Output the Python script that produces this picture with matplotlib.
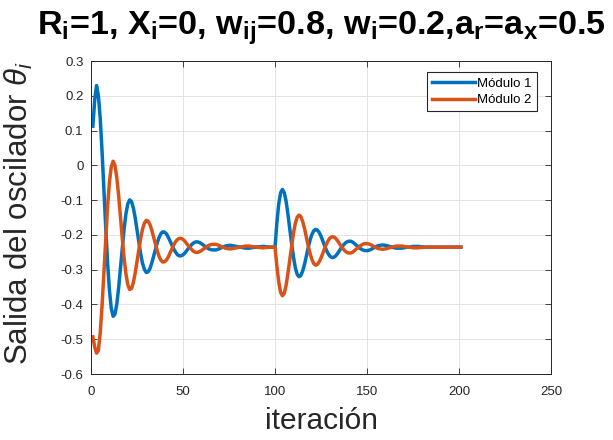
import matplotlib
matplotlib.use("Agg")
import matplotlib.pyplot as plt

plt.rcParams['font.family'] = ['Liberation Sans', 'DejaVu Sans']
plt.rcParams['mathtext.fontset'] = 'custom'
plt.rcParams['mathtext.rm'] = 'Liberation Sans'
plt.rcParams['mathtext.it'] = 'Liberation Sans:italic'
plt.rcParams['mathtext.bf'] = 'Liberation Sans:bold'
plt.rcParams['axes.unicode_minus'] = False

# iteraciones 1..201
iteracion = list(range(1, 202))

modulo1 = [
    0.113, 0.188, 0.230, 0.201, 0.135, 0.040, -0.070, -0.180, -0.280, -0.359,
    -0.411, -0.434, -0.428, -0.399, -0.352, -0.294, -0.235, -0.181, -0.138, -0.110,
    -0.099, -0.104, -0.122, -0.151, -0.186, -0.222, -0.255, -0.282, -0.299, -0.308,
    -0.306, -0.297, -0.281, -0.261, -0.241, -0.222, -0.207, -0.196, -0.191, -0.192,
    -0.197, -0.207, -0.218, -0.230, -0.241, -0.250, -0.257, -0.260, -0.260, -0.257,
    -0.252, -0.245, -0.238, -0.232, -0.226, -0.222, -0.220, -0.220, -0.222, -0.225,
    -0.229, -0.233, -0.237, -0.240, -0.242, -0.243, -0.243, -0.243, -0.241, -0.239,
    -0.236, -0.234, -0.232, -0.231, -0.230, -0.230, -0.231, -0.232, -0.233, -0.234,
    -0.235, -0.236, -0.237, -0.238, -0.238, -0.238, -0.237, -0.236, -0.236, -0.235,
    -0.234, -0.234, -0.233, -0.233, -0.234, -0.234, -0.235, -0.235, -0.235, -0.235,
    -0.164, -0.111, -0.079, -0.069, -0.078, -0.103, -0.140, -0.183, -0.225, -0.263,
    -0.294, -0.313, -0.320, -0.317, -0.304, -0.285, -0.261, -0.237, -0.215, -0.199,
    -0.188, -0.184, -0.186, -0.193, -0.204, -0.218, -0.232, -0.245, -0.255, -0.262,
    -0.265, -0.264, -0.260, -0.253, -0.245, -0.237, -0.230, -0.224, -0.220, -0.218,
    -0.218, -0.220, -0.224, -0.229, -0.233, -0.238, -0.241, -0.244, -0.245, -0.245,
    -0.244, -0.242, -0.239, -0.236, -0.233, -0.231, -0.230, -0.229, -0.229, -0.230,
    -0.231, -0.233, -0.234, -0.236, -0.237, -0.238, -0.238, -0.238, -0.238, -0.237,
    -0.236, -0.235, -0.235, -0.234, -0.233, -0.233, -0.233, -0.233, -0.234, -0.234,
    -0.235, -0.235, -0.235, -0.235, -0.235, -0.235, -0.235, -0.235, -0.235, -0.235,
    -0.235, -0.235, -0.235, -0.235, -0.235, -0.235, -0.235, -0.235, -0.235, -0.235,
    -0.235,
]

modulo2 = [
    -0.493, -0.522, -0.540, -0.532, -0.482, -0.403, -0.307, -0.208, -0.118, -0.048,
    -0.004, 0.012, 0.000, -0.035, -0.086, -0.148, -0.211, -0.268, -0.313, -0.344,
    -0.357, -0.354, -0.337, -0.309, -0.276, -0.241, -0.209, -0.183, -0.166, -0.158,
    -0.160, -0.170, -0.186, -0.206, -0.227, -0.246, -0.262, -0.273, -0.278, -0.277,
    -0.272, -0.263, -0.251, -0.240, -0.228, -0.219, -0.213, -0.210, -0.210, -0.213,
    -0.218, -0.225, -0.232, -0.238, -0.244, -0.248, -0.250, -0.250, -0.248, -0.245,
    -0.241, -0.237, -0.233, -0.230, -0.228, -0.227, -0.227, -0.227, -0.229, -0.231,
    -0.234, -0.236, -0.238, -0.239, -0.240, -0.240, -0.239, -0.238, -0.237, -0.236,
    -0.235, -0.234, -0.233, -0.232, -0.232, -0.232, -0.233, -0.234, -0.234, -0.235,
    -0.236, -0.236, -0.237, -0.237, -0.236, -0.236, -0.235, -0.235, -0.235, -0.235,
    -0.290, -0.335, -0.365, -0.375, -0.368, -0.345, -0.310, -0.271, -0.231, -0.195,
    -0.167, -0.149, -0.143, -0.147, -0.161, -0.181, -0.206, -0.231, -0.253, -0.270,
    -0.282, -0.287, -0.285, -0.277, -0.266, -0.252, -0.238, -0.225, -0.215, -0.208,
    -0.205, -0.206, -0.210, -0.217, -0.225, -0.233, -0.240, -0.246, -0.250, -0.252,
    -0.252, -0.250, -0.246, -0.241, -0.237, -0.232, -0.229, -0.226, -0.225, -0.225,
    -0.226, -0.228, -0.231, -0.234, -0.237, -0.239, -0.240, -0.241, -0.241, -0.240,
    -0.239, -0.237, -0.236, -0.234, -0.233, -0.232, -0.232, -0.232, -0.232, -0.233,
    -0.234, -0.235, -0.235, -0.236, -0.237, -0.237, -0.237, -0.237, -0.236, -0.236,
    -0.235, -0.235, -0.235, -0.235, -0.235, -0.235, -0.235, -0.235, -0.235, -0.235,
    -0.235, -0.235, -0.235, -0.235, -0.235, -0.235, -0.235, -0.235, -0.235, -0.235,
    -0.235,
]

xticks = [0, 50, 100, 150, 200, 250]
yticks = [-0.6, -0.5, -0.4, -0.3, -0.2, -0.1, 0, 0.1, 0.2, 0.3]
ytick_labels = ['-0.6', '-0.5', '-0.4', '-0.3', '-0.2', '-0.1', '0', '0.1', '0.2', '0.3']

fig = plt.figure(figsize=(6.13, 4.40), dpi=100)
ax = fig.add_axes([0.1485, 0.150, 0.7505, 0.711])

ax.plot(iteracion, modulo1, color='#0072BD', lw=2.5, label='Módulo 1')
ax.plot(iteracion, modulo2, color='#D95319', lw=2.5, label='Módulo 2')

ax.set_xlim(0, 250)
ax.set_ylim(-0.6, 0.3)
ax.set_xticks(xticks)
ax.set_yticks(yticks)
ax.set_yticklabels(ytick_labels)
ax.tick_params(direction='in', length=4, width=0.6, colors='#262626',
               labelsize=9.5, top=True, right=True)
ax.tick_params(axis='x', pad=8.5)
ax.tick_params(axis='y', pad=5.5)
ax.grid(True, color='#e3e3e3', lw=0.7)
ax.set_axisbelow(True)
for sp in ax.spines.values():
    sp.set_color('#262626')
    sp.set_linewidth(0.7)

ax.set_xlabel('iteración', fontsize=21.5, color='#262626', labelpad=6.5)
ax.set_ylabel(r'Salida del oscilador $\theta_i$', fontsize=22.5, color='#262626')
ax.yaxis.set_label_coords(-0.122, 0.515)

titulo = (r'R$_\mathbf{i}$=1, X$_\mathbf{i}$=0, w$_\mathbf{ij}$=0.8, '
          r'w$_\mathbf{i}$=0.2,a$_\mathbf{r}$=a$_\mathbf{x}$=0.5')
ax.set_title(titulo, fontsize=24.6, fontweight='bold', pad=19)

leg = ax.legend(loc='upper right', bbox_to_anchor=(0.9696, 0.964),
                borderaxespad=0, fontsize=9.5, frameon=True, fancybox=False,
                framealpha=1, edgecolor='#262626', handlelength=3.2,
                handletextpad=0.2, labelspacing=0.3, borderpad=0.4)
leg.get_frame().set_linewidth(0.8)

fig.savefig('out.png', dpi=100)
